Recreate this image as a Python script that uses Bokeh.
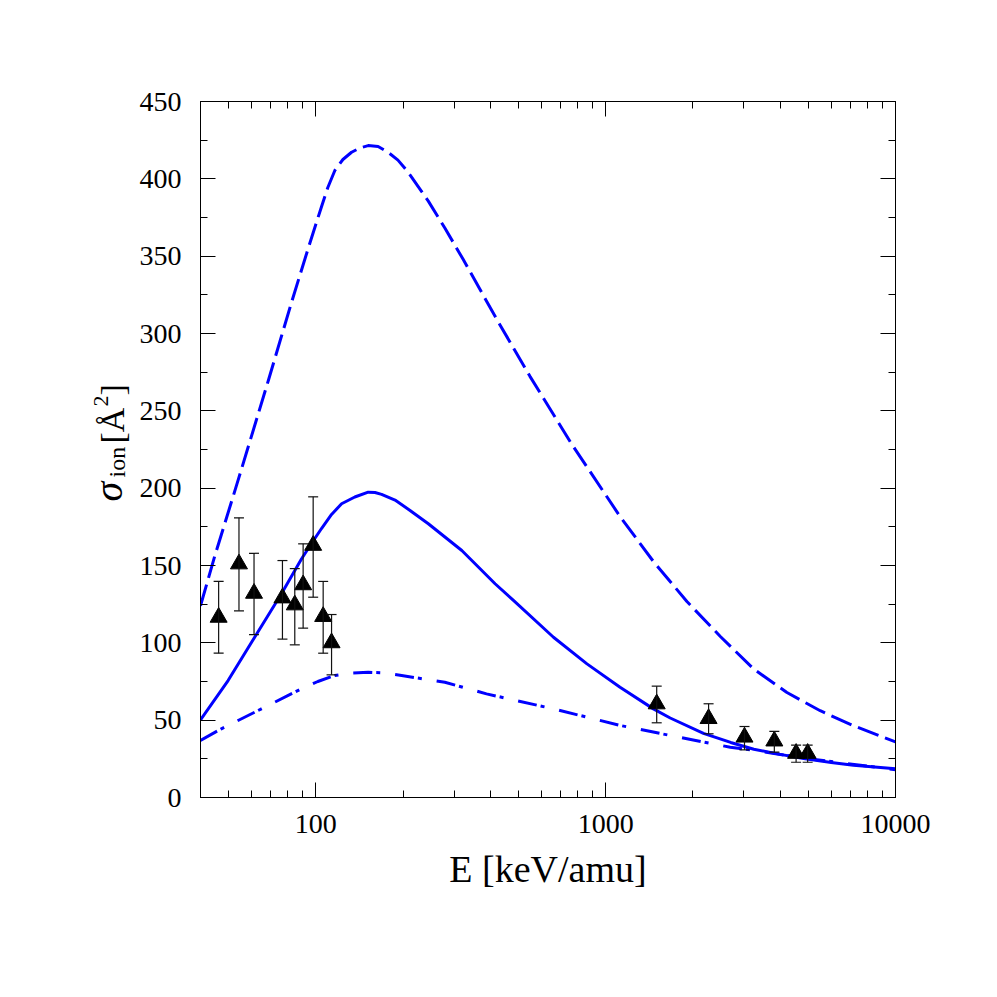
from math import pi
from bokeh.plotting import figure
from bokeh.layouts import row
from bokeh.models import (Range1d, FixedTicker, LogAxis, LinearAxis, Whisker, TeeHead,
                          ColumnDataSource, NumeralTickFormatter, CustomJSTickFormatter)
from bokeh.core.properties import value
from bokeh.embed import file_html
from bokeh.resources import INLINE

# ---------------- data ----------------
E_dashed = [40, 44.8, 53.9, 68.9, 82.4, 94.1, 104.6, 110, 116.3, 124, 132.8, 142, 151.6, 164,
            177.7, 192, 208.4, 244.4, 278.7, 322.6, 420.3, 548, 763, 1121, 1461, 1907, 2487,
            3245, 4221, 5499, 7160, 10000]
sig_dashed = [124, 156.1, 205, 270.9, 320, 355, 382, 394.4, 405.4, 412.5, 417.2, 420, 421.5, 420.9,
              417.1, 412.1, 404.2, 385.6, 368.2, 347.8, 309.4, 272.3, 228.6, 181.7, 152.6, 126.7,
              104.1, 83.0, 67.9, 56.1, 46.4, 35.9]

E_solid = [40, 49.8, 61.5, 76.1, 89.2, 96.6, 104.6, 113.3, 122.7, 136.3, 151.6, 160, 168.6, 187.6,
           211.4, 244.4, 318.9, 415.4, 480.6, 660.6, 862, 1121, 1461, 1670, 2175, 2700, 3245, 4000,
           4816, 6000, 7160, 10000]
sig_solid = [50.2, 75.6, 103.6, 131.7, 154.2, 164.2, 173.9, 183, 189.9, 194.3, 197.4, 197.2, 196.0,
             192.3, 185.6, 177, 159.7, 138.2, 127.4, 103.6, 86.4, 71.3, 57.3, 51.4, 41.5, 35.6, 31.2,
             27.9, 25.2, 22.7, 20.8, 18.6]

E_dashdot = [40, 47.2, 64.9, 89.2, 101.6, 116.3, 132.8, 151.6, 173, 197.7, 278.7, 388, 660.6,
             1121, 1670, 2691, 3245, 4816, 10000]
sig_dashdot = [36.9, 44.4, 57.3, 70.3, 75, 78.9, 80.5, 81, 80.5, 78.9, 74.5, 67, 57.3,
               46.6, 40.1, 32.5, 30.5, 25.5, 18]

E_exp = [46.2, 54.3, 61.2, 76.7, 84.6, 90.4, 97.9, 106.0, 113.3, 1500, 2265, 3013, 3819, 4540, 4976]
sig_exp = [116.5, 151, 132, 129, 124.5, 137.5, 163, 117, 100, 60.5, 51, 39, 36.5, 28.5, 28.5]
err_lo = [93.3, 120.7, 105.3, 102.4, 98.7, 109.5, 129.5, 93.3, 79.3, 48.3, 41.2, 30.8, 29.3, 22.8, 22.8]
err_hi = [139.8, 180.8, 157.9, 153.2, 148, 164, 194.4, 139.7, 118.3, 72, 60.6, 45.9, 42.7, 33.8, 33.8]

x_ticks = [100, 1000, 10000]
x_minor = [40, 50, 60, 70, 80, 90, 200, 300, 400, 500, 600, 700, 800, 900,
           2000, 3000, 4000, 5000, 6000, 7000, 8000, 9000]
y_ticks = [0, 50, 100, 150, 200, 250, 300, 350, 400, 450]
y_minor = [25, 75, 125, 175, 225, 275, 325, 375, 425]

x_title = "E [keV/amu]"
y_title_parts = ["σ", "ion", "[Å", "2", "]"]

FONT = "Liberation Serif"
BLUE = "#0000ff"
H = 967          # total height of both figures
LW = 136         # width of the strip holding the y title
TOP, BOTTOM = 101, 170

# ---------------- main figure ----------------
p = figure(x_axis_type="log", x_range=Range1d(40, 10000), y_range=Range1d(0, 450),
           frame_width=695, frame_height=696,
           min_border_left=200 - LW, min_border_right=70, min_border_top=TOP, min_border_bottom=BOTTOM,
           output_backend="svg", toolbar_location=None,
           background_fill_color="white", border_fill_color="white")
p.xgrid.visible = False
p.ygrid.visible = False
p.outline_line_color = "black"
p.outline_line_width = 1

xt = FixedTicker(ticks=x_ticks, minor_ticks=x_minor)
yt = FixedTicker(ticks=y_ticks, minor_ticks=y_minor)

def style(ax):
    ax.axis_line_color = "black"
    ax.axis_line_width = 1
    ax.major_tick_in = 15
    ax.major_tick_out = 0
    ax.minor_tick_in = 7
    ax.minor_tick_out = 0
    ax.major_tick_line_color = "black"
    ax.minor_tick_line_color = "black"
    ax.major_label_text_font = FONT
    ax.major_label_text_font_size = "28px"
    ax.major_label_text_color = "black"

xa = p.xaxis[0]
xa.ticker = xt
xa.formatter = NumeralTickFormatter(format="0")
style(xa)
xa.major_label_standoff = 17
xa.axis_label = x_title
xa.axis_label_text_font = FONT
xa.axis_label_text_font_size = "38px"
xa.axis_label_text_font_style = "normal"
xa.axis_label_text_color = "black"
xa.axis_label_standoff = 12

ya = p.yaxis[0]
ya.ticker = yt
style(ya)
ya.major_label_standoff = 19

empty = CustomJSTickFormatter(code="return ''")
top = LogAxis(ticker=xt, formatter=empty)
style(top)
right = LinearAxis(ticker=yt, formatter=empty)
style(right)
p.add_layout(top, "above")
p.add_layout(right, "right")

# ---------------- curves ----------------
p.line(E_dashed, sig_dashed, line_color=BLUE, line_width=3, line_dash="22 7", line_join="round")
p.line(E_solid, sig_solid, line_color=BLUE, line_width=3, line_join="round")
p.line(E_dashdot, sig_dashdot, line_color=BLUE, line_width=3, line_dash="19 4 4 15", line_join="round")

# ---------------- experiment ----------------
src = ColumnDataSource(dict(x=E_exp, y=sig_exp, lo=err_lo, hi=err_hi))
w = Whisker(source=src, base="x", upper="hi", lower="lo", dimension="height",
            line_color="#111111", line_width=1.2,
            upper_head=TeeHead(size=10, line_color="#111111", line_width=1.2),
            lower_head=TeeHead(size=10, line_color="#111111", line_width=1.2))
w.level = "glyph"
p.add_layout(w)
p.scatter("x", "y", source=src, marker="triangle", size=17, fill_color="black", line_color="black")

# ---------------- y-axis title (separate strip at left) ----------------
# its frame is aligned with the main frame (page y 101..797), so y in data = H - page_y
lf = figure(width=LW, height=H, x_range=Range1d(0, LW), y_range=Range1d(BOTTOM, H - TOP),
            min_border_left=0, min_border_right=0, min_border_top=TOP, min_border_bottom=BOTTOM,
            x_axis_location=None, y_axis_location=None,
            output_backend="svg", toolbar_location=None,
            background_fill_color="white", border_fill_color="white")
lf.outline_line_color = None
lf.grid.visible = False

# (baseline x in page px, start y in page px, font size, style)
parts_pos = [(108, 501, "40px", "italic"),
             (116, 477, "24px", "normal"),
             (112, 443, "34px", "normal"),
             (100, 406, "22px", "normal"),
             (112, 395, "34px", "normal")]
for t, (bx, by, fs, st) in zip(y_title_parts, parts_pos):
    lf.text(x=[bx], y=[H - by], text=[t], angle=pi / 2, text_font=value(FONT),
            text_font_size=value(fs), text_font_style=st, text_color="black",
            text_align="left", text_baseline="alphabetic")

layout = row(lf, p, spacing=0)
open("out.html", "w").write(file_html(layout, INLINE))
